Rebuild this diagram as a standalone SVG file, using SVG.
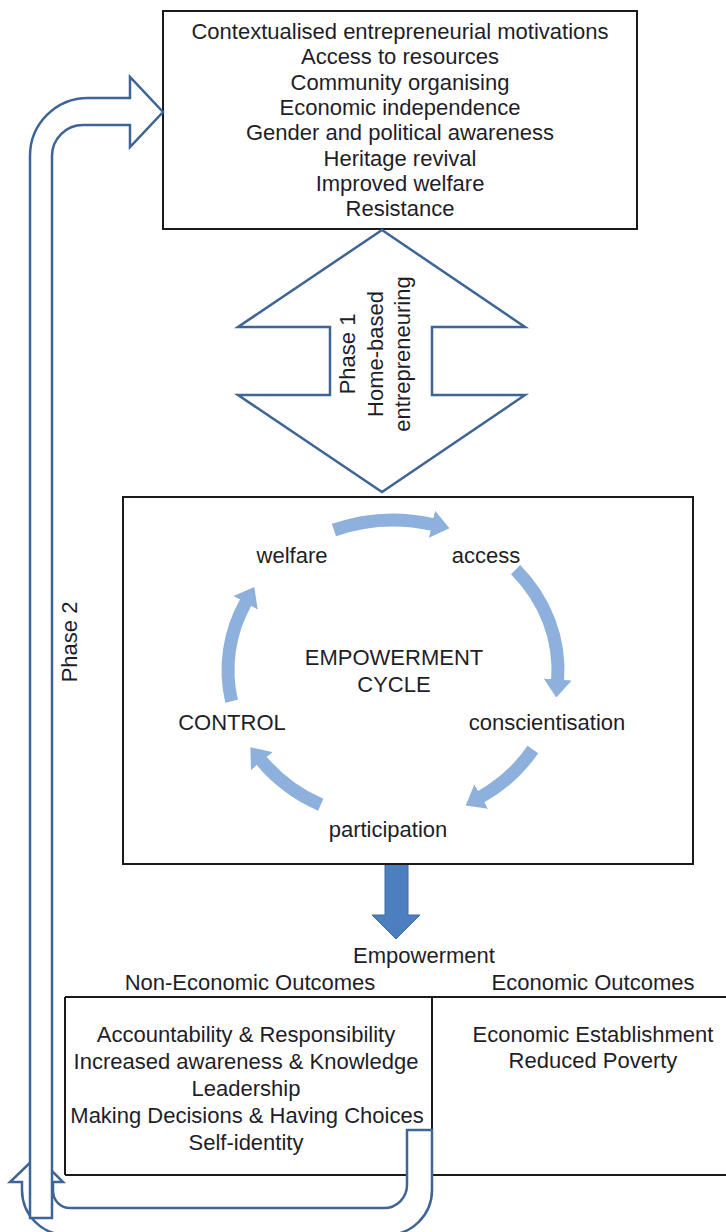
<svg xmlns="http://www.w3.org/2000/svg" width="726" height="1232" viewBox="0 0 726 1232">
<style>
text{font-family:"Liberation Sans",Arial,sans-serif;font-size:22px;fill:#1e1e28;text-anchor:middle}
.box{fill:#fff;stroke:#1a1a1a;stroke-width:2}
.line{stroke:#1a1a1a;stroke-width:2;fill:none}
.outline{fill:#fff;stroke:#3e6595;stroke-width:2.5;stroke-linejoin:miter}
.cyc{fill:none;stroke:#8db1dc;stroke-width:13}
</style>
<defs>
<marker id="ah" markerUnits="userSpaceOnUse" markerWidth="18" markerHeight="28" viewBox="0 0 18 28" refX="1" refY="14" orient="auto">
<path d="M0,0 L18,14 L0,28 z" fill="#8db1dc"/>
</marker>
</defs>

<g id="motivations">
<rect class="box" x="163" y="11" width="474" height="218"/>
<text x="400" y="39">Contextualised entrepreneurial motivations</text>
<text x="400" y="64">Access to resources</text>
<text x="400" y="89.5">Community organising</text>
<text x="400" y="115">Economic independence</text>
<text x="400" y="140">Gender and political awareness</text>
<text x="400" y="165.5">Heritage revival</text>
<text x="400" y="191">Improved welfare</text>
<text x="400" y="216">Resistance</text>
</g>

<g id="outcomes">
<text x="250" y="990">Non-Economic Outcomes</text>
<text x="593" y="990">Economic Outcomes</text>
<line class="line" x1="65" y1="997" x2="727" y2="997"/>
<line class="line" x1="65" y1="1175" x2="727" y2="1175"/>
<line class="line" x1="65" y1="997" x2="65" y2="1175"/>
<line class="line" x1="432" y1="997" x2="432" y2="1175"/>
<text x="246" y="1042">Accountability &amp; Responsibility</text>
<text x="246" y="1069">Increased awareness &amp; Knowledge</text>
<text x="246" y="1096">Leadership</text>
<text x="247" y="1123">Making Decisions &amp; Having Choices</text>
<text x="246" y="1150">Self-identity</text>
<text x="593" y="1042">Economic Establishment</text>
<text x="593" y="1068">Reduced Poverty</text>
</g>

<g id="connectors">
<g id="phase1-arrow">
<polygon class="outline" points="382,230 525,327 432,327 432,395 525,395 382,492 238,395 330,395 330,327 238,327"/>
<text transform="translate(355,354) rotate(-90)">Phase 1</text>
<text transform="translate(382.5,354) rotate(-90)">Home-based</text>
<text transform="translate(410,354) rotate(-90)">entrepreneuring</text>
</g>
<g id="uturn-arrow">
<path class="outline" d="M407,1130 L407,1185 A23,23 0 0 1 384,1208 L70,1208 A17,17 0 0 1 53,1191 L53,1182 L63,1182 L37,1156 L10,1182 L22,1182 L22,1190 A45,45 0 0 0 67,1235 L387,1235 A45,45 0 0 0 432,1190 L432,1130 Z"/>
</g>
<g id="phase2-arrow">
<path class="outline" d="M30,1218 L30,156 A58,58 0 0 1 88,98 L130,98 L130,77 L163,112 L130,147 L130,125 L83,125 A31,31 0 0 0 52,156 L52,1218 Z"/>
<text transform="translate(77,642) rotate(-90)">Phase 2</text>
</g>
<g id="down-arrow">
<polygon points="385,862 408,862 408,915 420,915 396,939 372,915 385,915" fill="#4d7ebf" stroke="#3f6aa3" stroke-width="1"/>
</g>
</g>

<g id="cycle">
<rect class="box" x="123" y="497" width="570" height="367"/>
<g id="cycle-arrows">
<path class="cyc" marker-end="url(#ah)" d="M333.9,530 A165,150 0 0 1 432.9,524.5"/>
<path class="cyc" marker-end="url(#ah)" d="M515.6,569.6 A165,150 0 0 1 557.6,680.5"/>
<path class="cyc" marker-end="url(#ah)" d="M532.9,749.5 A165,150 0 0 1 480.4,797.2"/>
<path class="cyc" marker-end="url(#ah)" d="M320.7,804.8 A165,150 0 0 1 261.2,760.3"/>
<path class="cyc" marker-end="url(#ah)" d="M231.6,701.2 A165,150 0 0 1 246,601.9"/>
</g>
<text x="292" y="563">welfare</text>
<text x="486" y="563">access</text>
<text x="547" y="730">conscientisation</text>
<text x="388" y="837">participation</text>
<text x="232" y="730">CONTROL</text>
<text x="394" y="665">EMPOWERMENT</text>
<text x="394" y="692">CYCLE</text>
</g>

<g id="empowerment-label">
<text x="424" y="963">Empowerment</text>
</g>
</svg>
